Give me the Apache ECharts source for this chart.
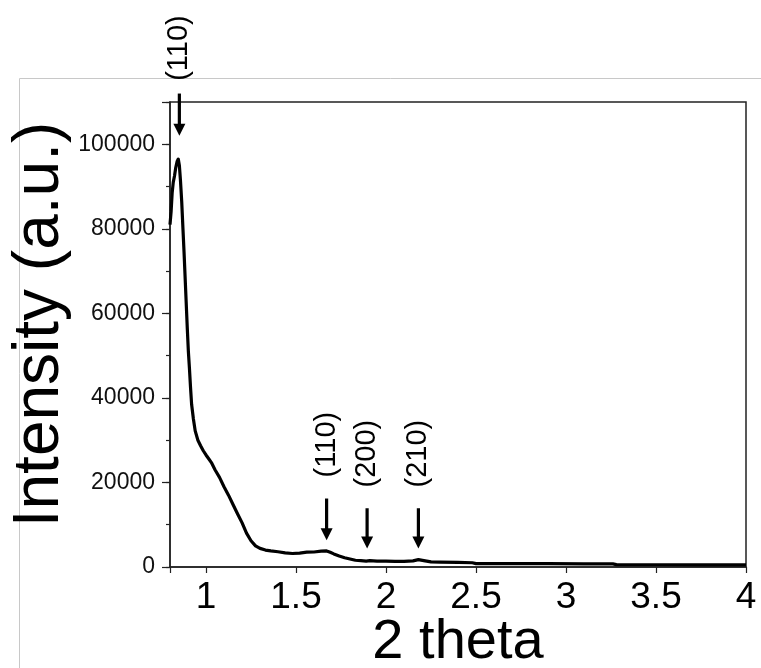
<!DOCTYPE html>
<html>
<head>
<meta charset="utf-8">
<script src="https://cdn.jsdelivr.net/npm/echarts@6/dist/echarts.min.js"></script>
<style>
  html, body { margin: 0; padding: 0; background: #fff; }
  #chart { width: 761px; height: 668px; }
</style>
</head>
<body>
<div id="chart"></div>
<script>
// Diffraction pattern: 2 theta (deg) vs. intensity (a.u.)
const twoTheta = [
  0.800, 0.806, 0.812, 0.818, 0.825, 0.832, 0.840, 0.846, 0.852, 0.858,
  0.865, 0.872, 0.878, 0.884, 0.890, 0.896, 0.902, 0.908, 0.914, 0.920,
  0.930, 0.940, 0.955, 0.970, 0.985, 1.000, 1.015, 1.030, 1.050, 1.075,
  1.100, 1.125, 1.150, 1.175, 1.200, 1.225, 1.250, 1.275, 1.300, 1.330,
  1.360, 1.400, 1.440, 1.480, 1.520, 1.560, 1.600, 1.640, 1.670, 1.690,
  1.710, 1.740, 1.770, 1.800, 1.830, 1.860, 1.890, 1.910, 1.950, 2.000,
  2.050, 2.100, 2.150, 2.180, 2.210, 2.250, 2.300, 2.400, 2.480, 2.500,
  2.700, 2.900, 3.100, 3.260, 3.280, 3.500, 3.750, 4.000
];
const intensity = [
  81000, 84000, 88500, 91000, 92500, 94500, 96000, 96500, 95000, 91500,
  86500, 80000, 74500, 68500, 62500, 56500, 51000, 47000, 42500, 38500,
  35000, 32200, 30000, 28700, 27500, 26500, 25600, 24700, 23000, 21200,
  19000, 17000, 14800, 12600, 10500, 8000, 6200, 5000, 4400, 4000,
  3800, 3600, 3350, 3200, 3300, 3500, 3550, 3750, 3800, 3500,
  3100, 2600, 2200, 1900, 1600, 1500, 1400, 1500, 1400, 1400,
  1350, 1350, 1450, 1750, 1500, 1200, 1150, 1100, 1000, 800,
  800, 780, 760, 750, 550, 530, 520, 500
];

// Reflection markers: position, label, arrow tip / tail and label start (intensity units)
const peakPos    = [0.852, 1.67, 1.895, 2.18];
const peakLabels = ['(110)', '(110)', '(200)', '(210)'];
const arrowTip   = [102000, 6300, 4400, 4400];
const arrowTail  = [112000, 16200, 13900, 13900];
const labelStart = [115000, 21200, 18800, 18800];

const xTickLabels = ['1', '1.5', '2', '2.5', '3', '3.5', '4'];
const yTickLabels = ['0', '20000', '40000', '60000', '80000', '100000'];

const FONT = '"Liberation Sans", Arial, Helvetica, sans-serif';
const AXIS_COLOR = '#222';

const chart = echarts.init(document.getElementById('chart'), null, { renderer: 'canvas' });

chart.setOption({
  animation: false,
  backgroundColor: '#fff',
  grid: {
    left: 170, right: 15, top: 102, bottom: 101,
    containLabel: false,
    outerBoundsMode: 'none',
    show: true, borderColor: AXIS_COLOR, borderWidth: 1.5, backgroundColor: 'transparent'
  },
  xAxis: {
    type: 'value',
    min: 0.8, max: 4,
    splitNumber: 6,
    name: '2 theta',
    nameLocation: 'middle',
    nameGap: 48,
    nameMoveOverlap: false,
    nameTextStyle: { fontFamily: FONT, fontSize: 56, color: '#000' },
    axisLine: { show: true, onZero: false, lineStyle: { color: AXIS_COLOR, width: 1.5 } },
    axisTick: { show: true, inside: false, length: 6, lineStyle: { color: AXIS_COLOR, width: 1.2 } },
    axisLabel: {
      margin: 12,
      fontFamily: FONT,
      fontSize: 37, color: '#000',
      formatter: v => (xTickLabels.includes(String(v)) ? String(v) : '')
    },
    splitLine: { show: false }
  },
  yAxis: [
    {
      type: 'value',
      position: 'left',
      min: 0, max: 110000, interval: 20000,
      name: 'Intensity (a.u.)',
      nameLocation: 'middle',
      nameRotate: 90,
      nameGap: 98,
      nameMoveOverlap: false,
      nameTextStyle: { fontFamily: FONT, fontSize: 64, color: '#000', padding: [0, 0, 0, 20] },
      axisLine: { show: true, onZero: false, lineStyle: { color: AXIS_COLOR, width: 1.5 } },
      axisTick: { show: true, inside: false, length: 8, lineStyle: { color: AXIS_COLOR, width: 1.2 } },
      axisLabel: {
        margin: 15,
        fontFamily: FONT, fontSize: 23, color: '#111',
        formatter: v => (yTickLabels.includes(String(v)) ? String(v) : '')
      },
      splitLine: { show: false }
    },
    {
      // short ticks every 10000 on the same scale
      type: 'value',
      position: 'left',
      offset: 0,
      min: 0, max: 110000, interval: 10000,
      axisLine: { show: false },
      axisTick: { show: true, inside: false, length: 4, lineStyle: { color: AXIS_COLOR, width: 1.2 } },
      axisLabel: { show: false },
      splitLine: { show: false }
    }
  ],
  graphic: [
    // light frame around the figure
    { type: 'line', silent: true, z: -10, shape: { x1: 19.5, y1: 78.5, x2: 761, y2: 78.5 },
      style: { stroke: '#c8c8c8', lineWidth: 1 } },
    { type: 'line', silent: true, z: -10, shape: { x1: 19.5, y1: 78.5, x2: 19.5, y2: 668 },
      style: { stroke: '#c8c8c8', lineWidth: 1 } }
  ],
  series: [
    {
      type: 'line',
      yAxisIndex: 0,
      data: twoTheta.map((x, i) => [x, intensity[i]]),
      showSymbol: false,
      symbol: 'none',
      lineStyle: { color: '#000', width: 3.2, join: 'round' },
      clip: true,
      z: 3
    },
    {
      type: 'custom',
      yAxisIndex: 0,
      clip: false,
      z: 4,
      data: peakPos.map((x, i) => [x, arrowTip[i], arrowTail[i], labelStart[i], i]),
      encode: { x: 0, y: 1 },
      renderItem: (params, api) => {
        const i = api.value(4);
        const x = api.value(0);
        const tip = api.coord([x, api.value(1)]);
        const tail = api.coord([x, api.value(2)]);
        const lab = api.coord([x, api.value(3)]);
        const headLen = 12, halfW = 6;
        return {
          type: 'group',
          children: [
            { type: 'line',
              shape: { x1: tip[0], y1: tail[1], x2: tip[0], y2: tip[1] - headLen + 1 },
              style: { stroke: '#000', lineWidth: 3.2 } },
            { type: 'polygon',
              shape: { points: [[tip[0] - halfW, tip[1] - headLen], [tip[0] + halfW, tip[1] - headLen], [tip[0], tip[1]]] },
              style: { fill: '#000' } },
            { type: 'text',
              x: lab[0], y: lab[1], rotation: Math.PI / 2,
              style: { text: peakLabels[i], fill: '#000', fontSize: 29, fontFamily: FONT,
                       align: 'left', verticalAlign: 'middle' } }
          ]
        };
      }
    }
  ]
});
</script>
</body>
</html>
